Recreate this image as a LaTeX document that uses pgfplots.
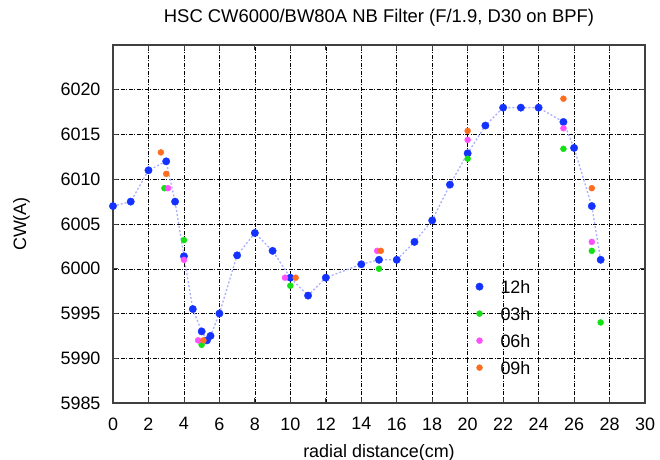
\documentclass[border=0pt]{standalone}
\usepackage{fontspec}
\setmainfont{Liberation Sans}
\usepackage{pgfplots}
\pgfplotsset{compat=1.18}
\definecolor{c12}{RGB}{20,50,255}
\definecolor{c03}{RGB}{20,225,20}
\definecolor{c06}{RGB}{255,80,255}
\definecolor{c09}{RGB}{255,110,30}
\definecolor{lineblue}{RGB}{170,175,255}
\begin{document}
\begin{tikzpicture}
\useasboundingbox (-113bp,-57bp) rectangle (547bp,403bp);
\begin{axis}[
 scale only axis, width=532bp, height=358bp,
 xmin=0, xmax=30, ymin=5985, ymax=6025,
 xtick={0,2,...,30}, ytick={5985,5990,...,6020},
 grid=major,
 grid style={black, line width=0.5bp, dash pattern=on 4bp off 1.5bp on 1bp off 1.5bp},
 axis line style={line width=1.1bp, black!75},
 tick style={black!75, line width=0.8bp},
 major tick length=5bp,
 tick align=inside,
 tick label style={font=\fontsize{18}{20}\selectfont},
 /pgf/number format/assume math mode=true,
 /pgf/number format/1000 sep={},
 xticklabel style={yshift=-11bp},
 yticklabel style={xshift=-9bp},
 title={HSC CW6000/BW80A NB Filter (F/1.9, D30 on BPF)},
 title style={at={(axis description cs:0.5,1)}, anchor=center, yshift=21bp, font=\fontsize{18.5}{20}\selectfont},
 xlabel={radial distance(cm)},
 xlabel style={at={(axis description cs:0.5,0)}, anchor=center, yshift=-50bp, font=\fontsize{18}{20}\selectfont},
 ylabel={CW(A)},
 ylabel style={at={(axis description cs:-0.172,0.5)}, anchor=center, font=\fontsize{18}{20}\selectfont},
 legend style={at={(axis description cs:0.672,0.346)}, anchor=north west, draw=none, fill=none,
   inner sep=0bp, outer sep=0bp, font=\fontsize{18}{20}\selectfont,
   nodes={inner sep=1bp, text height=13bp, text depth=0bp}, row sep=12bp},
 legend cell align=left,
 legend image code/.code={\path[draw=none, fill=none] (-9bp,0bp) -- (20bp,0bp); \draw[#1] plot coordinates {(0bp,0bp)};},
]
\addplot[lineblue, line width=1.3bp, dash pattern=on 2bp off 2bp, forget plot] table {
x y
0 6007
1 6007.5
2 6011
3 6012
3.5 6007.5
4 6001.4
4.5 5995.5
5 5993
5.3 5992
5.5 5992.5
6 5995
7 6001.5
8 6004
9 6002
10 5999
11 5997
12 5999
14 6000.5
15 6001
16 6001
17 6003
18 6005.4
19 6009.4
20 6012.9
21 6016
22 6018
23 6018
24 6018
25.4 6016.4
26 6013.5
27 6007
27.5 6001
};
\addplot[only marks, mark=*, mark size=3.7bp, c12, mark options={draw=c12, fill=c12}] table {
x y
0 6007
1 6007.5
2 6011
3 6012
3.5 6007.5
4 6001.4
4.5 5995.5
5 5993
5.3 5992
5.5 5992.5
6 5995
7 6001.5
8 6004
9 6002
10 5999
11 5997
12 5999
14 6000.5
15 6001
16 6001
17 6003
18 6005.4
19 6009.4
20 6012.9
21 6016
22 6018
23 6018
24 6018
25.4 6016.4
26 6013.5
27 6007
27.5 6001
};
\addlegendentry{12h}
\addplot[only marks, mark=*, mark size=3bp, c03, mark options={draw=c03, fill=c03}] table {
x y
2.9 6009
4 6003.2
5 5991.5
10 5998.1
15 6000
20 6012.3
25.4 6013.4
27 6002
27.5 5994
};
\addlegendentry{03h}
\addplot[only marks, mark=*, mark size=3bp, c06, mark options={draw=c06, fill=c06}] table {
x y
3.1 6009
4 6001
4.8 5992
9.7 5999
14.9 6002
20 6014.4
25.4 6015.7
27 6003
};
\addlegendentry{06h}
\addplot[only marks, mark=*, mark size=3bp, c09, mark options={draw=c09, fill=c09}] table {
x y
2.7 6013
3 6010.6
5.1 5992
10.3 5999
15.1 6002
20 6015.4
25.4 6019
27 6009
};
\addlegendentry{09h}
\end{axis}
\end{tikzpicture}
\end{document}
